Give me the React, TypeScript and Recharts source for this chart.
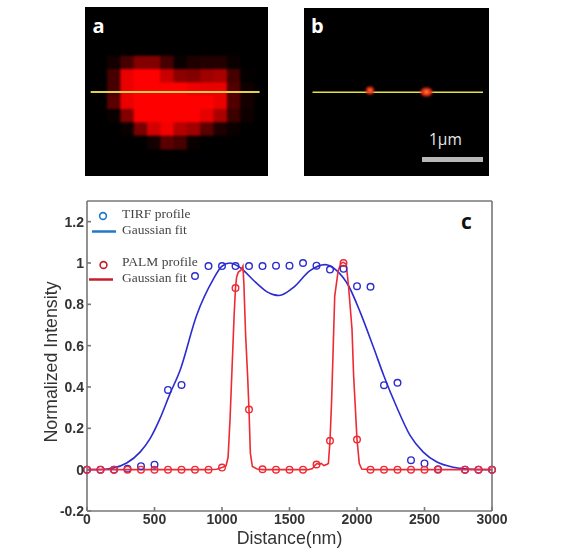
import React from "react"
import {
    ComposedChart,
    Line,
    Scatter,
    ScatterChart,
    XAxis,
    YAxis,
    ReferenceLine,
    Legend,
    Label,
} from "recharts"

// panel a: red level of each camera pixel, row by row
const pixelRows = [
    [20, 70, 130, 130, 70, 10, 30, 35, 35, 10, 0],
    [70, 235, 255, 255, 200, 140, 130, 160, 170, 70, 5],
    [70, 235, 255, 255, 255, 255, 240, 235, 235, 80, 15],
    [90, 235, 255, 255, 255, 255, 255, 255, 235, 80, 20],
    [10, 130, 255, 255, 255, 255, 255, 230, 170, 60, 15],
    [0, 10, 120, 210, 245, 180, 160, 90, 30, 10, 0],
    [0, 0, 0, 20, 90, 70, 10, 0, 0, 0, 0],
]
const profileCol = [-1.245, 11.43]
const profileRow = [2.7, 2.7]

// panel b: the two PALM spots
const spotX = [370, 426.5]
const spotY = [90.5, 92]
const spotRx = [4, 6]
const spotRy = [4, 4.6]

// panel c
const tirfX = [0, 100, 200, 300, 400, 500, 600, 700, 800, 900, 1000, 1100, 1200, 1300, 1400, 1500, 1600, 1700, 1800, 1900, 2000, 2100, 2200, 2300, 2400, 2500, 2600, 2800, 2900, 3000]
const tirfY = [0, 0, 0, 0.005, 0.017, 0.024, 0.386, 0.41, 0.937, 0.985, 0.985, 0.985, 0.985, 0.985, 0.987, 0.987, 1.0, 0.987, 0.968, 0.972, 0.888, 0.885, 0.409, 0.42, 0.046, 0.03, 0.002, 0, 0, 0]
const palmX = [0, 100, 200, 300, 400, 500, 600, 700, 800, 900, 1000, 1100, 1200, 1300, 1400, 1500, 1600, 1700, 1800, 1900, 2000, 2100, 2200, 2300, 2400, 2500, 2600, 2800, 2900, 3000]
const palmY = [0, 0, 0, 0, 0, 0, 0, 0, 0, 0, 0.01, 0.879, 0.291, 0.002, 0, 0, 0, 0.025, 0.14, 1.0, 0.146, 0, 0, 0, 0, 0, 0, 0, 0, 0]

const tirfFitX = [0, 100, 195, 294, 393, 467, 541, 615, 689, 811, 937, 998, 1059, 1120, 1250, 1341, 1381, 1420, 1455, 1530, 1652, 1763, 1850, 1937, 2025, 2122, 2198, 2294, 2393, 2491, 2592, 2715, 2860, 3000]
const tirfFitY = [0, 0.001, 0.008, 0.032, 0.085, 0.15, 0.248, 0.368, 0.48, 0.745, 0.923, 0.984, 1.0, 0.984, 0.906, 0.858, 0.847, 0.843, 0.849, 0.882, 0.963, 0.992, 0.963, 0.89, 0.76, 0.592, 0.456, 0.303, 0.166, 0.085, 0.037, 0.012, 0.002, 0]
const palmFitX = [0, 900, 960, 1000, 1030, 1045, 1060, 1075, 1090, 1100, 1108, 1120, 1140, 1155, 1162, 1175, 1190, 1200, 1210, 1225, 1260, 1300, 1640, 1670, 1690, 1705, 1720, 1735, 1755, 1775, 1788, 1800, 1812, 1835, 1860, 1880, 1898, 1920, 1937, 1963, 1975, 2000, 2017, 2035, 2100, 3000]
const palmFitY = [0, 0, 0.002, 0.01, 0.018, 0.06, 0.25, 0.5, 0.75, 0.88, 0.93, 0.955, 0.965, 0.985, 0.9, 0.65, 0.45, 0.29, 0.08, 0.015, 0.003, 0, 0, 0.005, 0.022, 0.03, 0.026, 0.03, 0.02, 0.025, 0.03, 0.14, 0.335, 0.84, 0.96, 0.998, 1.003, 0.995, 0.89, 0.68, 0.456, 0.146, 0.03, 0.003, 0, 0]

const xTicks = [0, 500, 1000, 1500, 2000, 2500, 3000]
const yTicks = [-0.2, 0, 0.2, 0.4, 0.6, 0.8, 1, 1.2]

const zip = (xs: number[], ys: number[]) => xs.map((x, i) => ({ x, y: ys[i] }))

const pixelData = pixelRows.flatMap((row, r) =>
    row.map((level, c) => ({ col: c + 0.5, row: r + 0.5, level }))
)
const profileData = profileCol.map((col, i) => ({ col, row: profileRow[i] }))
const spotData = spotX.map((x, i) => ({ x, y: spotY[i], rx: spotRx[i], ry: spotRy[i] }))

const CELL = 13.33
const BLUE = "#2b2bd0"
const RED = "#ee2a34"
const FRAME = "#777777"
const TICK_FONT = { fontSize: 14, fontWeight: 700, fontFamily: "Liberation Sans", fill: "#333333" }
const TITLE_FONT = { fontFamily: "Liberation Sans", fontSize: 17.8, fill: "#333333" }
const LEGEND_FONT: React.CSSProperties = { position: "absolute", fontFamily: "Liberation Serif", fontSize: 13.5, color: "#444444", whiteSpace: "nowrap" }

const PixelCell = (props: any) => (
    <rect
        x={props.cx - CELL / 2 - 0.3}
        y={props.cy - CELL / 2 - 0.3}
        width={CELL + 0.6}
        height={CELL + 0.6}
        fill={`rgb(${props.payload.level},0,0)`}
    />
)

const Spot = (props: any) => (
    <g>
        <ellipse cx={props.cx} cy={props.cy} rx={props.payload.rx} ry={props.payload.ry} fill="#e02818" />
        <ellipse cx={props.cx} cy={props.cy} rx={props.payload.rx * 0.45} ry={props.payload.ry * 0.45} fill="#ff7a20" />
    </g>
)

const ringShape = (color: string) => (props: any) => (
    <circle cx={props.cx} cy={props.cy} r={3.3} fill="none" stroke={color} strokeWidth={1.4} />
)

// zero-size root so the legend does not take room from the plot
const ChartLegend = () => (
    <div style={{ position: "relative", width: 0, height: 0 }}>
        <svg width={140} height={90} style={{ position: "absolute", left: 0, top: 0 }}>
            <circle cx={15} cy={13} r={3.4} fill="none" stroke="#1f78c8" strokeWidth={1.6} />
            <line x1={4} x2={28} y1={28.5} y2={28.5} stroke="#1f78c8" strokeWidth={2.5} />
            <circle cx={15.5} cy={62} r={3.4} fill="none" stroke="#c4202c" strokeWidth={1.6} />
            <line x1={1} x2={25} y1={76.5} y2={76.5} stroke="#c4202c" strokeWidth={2.5} />
        </svg>
        <span style={{ ...LEGEND_FONT, left: 34, top: 3 }}>TIRF profile</span>
        <span style={{ ...LEGEND_FONT, left: 34, top: 19 }}>Gaussian fit</span>
        <span style={{ ...LEGEND_FONT, left: 34, top: 51 }}>PALM profile</span>
        <span style={{ ...LEGEND_FONT, left: 34, top: 67 }}>Gaussian fit</span>
    </div>
)

const panelLetter = (x: number, y: number, size: number, color: string, t: string) => (
    <div style={{ position: "absolute", left: x, top: y, fontFamily: "Open Sans", fontWeight: 700, fontSize: size, color, lineHeight: 1 }}>{t}</div>
)

export default function App() {
    return (
        <div style={{ position: "absolute", left: 0, top: 0, width: 570, height: 558, background: "#fff", overflow: "hidden" }}>
            <style>{`.blurred .recharts-scatter{filter:blur(1.1px)}`}</style>

            {/* panel a: pixels, then the profile line in a layer above them */}
            <div className="blurred" style={{ position: "absolute", left: 85, top: 7, width: 183, height: 169, background: "#000" }}>
                <ScatterChart width={183} height={169} margin={{ top: 0, right: 0, bottom: 0, left: 0 }}>
                    <XAxis type="number" dataKey="col" domain={[-1.67, 12.06]} hide allowDataOverflow />
                    <YAxis type="number" dataKey="row" domain={[-3.675, 9]} reversed hide allowDataOverflow />
                    <Scatter data={pixelData} shape={PixelCell} isAnimationActive={false} />
                </ScatterChart>
            </div>
            <div style={{ position: "absolute", left: 85, top: 7, width: 183, height: 169 }}>
                <ComposedChart width={183} height={169} margin={{ top: 0, right: 0, bottom: 0, left: 0 }}>
                    <XAxis type="number" dataKey="col" domain={[-1.67, 12.06]} hide allowDataOverflow />
                    <YAxis type="number" dataKey="row" domain={[-3.675, 9]} reversed hide allowDataOverflow />
                    <Line data={profileData} dataKey="row" stroke="#e4d04a" strokeWidth={2.2} dot={false} isAnimationActive={false} />
                </ComposedChart>
            </div>
            {panelLetter(92.5, 16, 20, "#ffffff", "a")}

            {/* panel b */}
            <div className="blurred" style={{ position: "absolute", left: 304, top: 8, width: 185, height: 168, background: "#000" }}>
                <ScatterChart width={185} height={168} margin={{ top: 0, right: 0, bottom: 0, left: 0 }}>
                    <XAxis type="number" dataKey="x" domain={[304, 489]} hide allowDataOverflow />
                    <YAxis type="number" dataKey="y" domain={[8, 176]} reversed hide allowDataOverflow />
                    <Scatter data={spotData} shape={Spot} isAnimationActive={false} />
                    <ReferenceLine segment={[{ x: 312.5, y: 92.3 }, { x: 483, y: 92.3 }]} stroke="#e8e040" strokeWidth={1.6} />
                    <ReferenceLine segment={[{ x: 422, y: 159.5 }, { x: 483, y: 159.5 }]} stroke="#b8b8b8" strokeWidth={5} />
                </ScatterChart>
            </div>
            {panelLetter(311, 16, 20, "#ffffff", "b")}
            <div style={{ position: "absolute", left: 429, top: 130, fontFamily: "Open Sans", fontSize: 15.5, color: "#e8e8e8", lineHeight: 1.2 }}>1μm</div>

            {/* panel c */}
            <div style={{ position: "absolute", left: 0, top: 0, filter: "blur(0.3px)" }}>
                <ComposedChart width={570} height={558} margin={{ top: 171, right: 48, bottom: 17, left: 57 }}>
                    <XAxis
                        xAxisId={0}
                        type="number"
                        dataKey="x"
                        domain={[0, 3000]}
                        ticks={xTicks}
                        interval={0}
                        height={30}
                        stroke={FRAME}
                        strokeWidth={1.6}
                        tickSize={-4}
                        tickMargin={7}
                        tick={TICK_FONT}
                        tickFormatter={(v: number) => `${v}`}
                    >
                        <Label value="Distance(nm)" position="insideBottom" offset={-3} style={TITLE_FONT} />
                    </XAxis>
                    <XAxis
                        xAxisId="top"
                        orientation="top"
                        type="number"
                        domain={[0, 3000]}
                        ticks={xTicks}
                        interval={0}
                        height={30}
                        stroke={FRAME}
                        strokeWidth={1.6}
                        tickSize={-4}
                        tickFormatter={() => ""}
                    />
                    <YAxis
                        yAxisId={0}
                        type="number"
                        dataKey="y"
                        domain={[-0.2, 1.3]}
                        ticks={yTicks}
                        interval={0}
                        width={30}
                        stroke={FRAME}
                        strokeWidth={1.6}
                        tickSize={-4}
                        tickMargin={7}
                        tick={TICK_FONT}
                        tickFormatter={(v: number) => `${v}`}
                    >
                        <Label
                            value="Normalized Intensity"
                            angle={-90}
                            position="insideLeft"
                            offset={-6}
                            dy={6}
                            style={{ ...TITLE_FONT, textAnchor: "middle" }}
                        />
                    </YAxis>
                    <YAxis
                        yAxisId="right"
                        orientation="right"
                        type="number"
                        domain={[-0.2, 1.3]}
                        ticks={yTicks}
                        interval={0}
                        width={30}
                        stroke={FRAME}
                        strokeWidth={1.6}
                        tickSize={-4}
                        tickFormatter={() => ""}
                    />
                    <Line data={zip(tirfFitX, tirfFitY)} dataKey="y" type="monotone" stroke={BLUE} strokeWidth={1.6} dot={false} legendType="none" isAnimationActive={false} />
                    <Line data={zip(palmFitX, palmFitY)} dataKey="y" type="linear" stroke={RED} strokeWidth={1.6} dot={false} legendType="none" isAnimationActive={false} />
                    <Scatter data={zip(tirfX, tirfY)} dataKey="y" shape={ringShape(BLUE)} isAnimationActive={false} />
                    <Scatter data={zip(palmX, palmY)} dataKey="y" shape={ringShape(RED)} isAnimationActive={false} />
                    <Legend content={ChartLegend} wrapperStyle={{ position: "absolute", left: 88, top: 203, bottom: "auto", width: 0, height: 0 }} />
                </ComposedChart>
            </div>
            {panelLetter(461, 211, 21, "#111111", "c")}
        </div>
    )
}
